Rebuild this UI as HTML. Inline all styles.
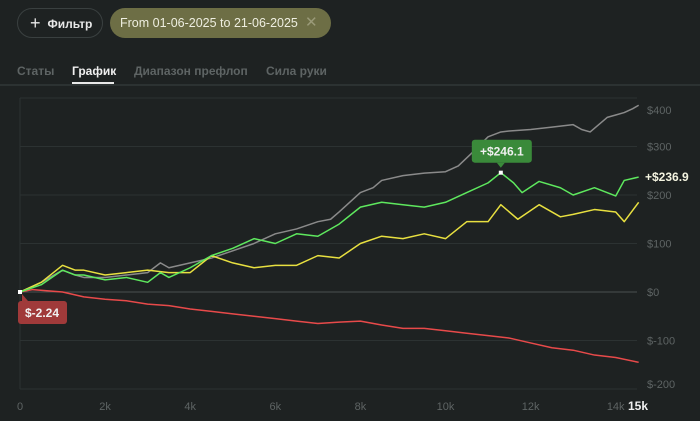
<!DOCTYPE html>
<html><head><meta charset="utf-8"><style>
body{margin:0;width:700px;height:421px;background:#1e2222;font-family:"Liberation Sans",sans-serif;overflow:hidden;position:relative}
.abs{position:absolute}
.btn{left:17px;top:8px;width:84px;height:28px;border:1px solid #3a4040;border-radius:15px;color:#e8e8e8;font-size:12px;font-weight:bold;line-height:28px;box-sizing:content-box}
.date{left:110px;top:8px;width:221px;height:30px;background:#6d6e45;border-radius:15px;color:#eeeee0;font-size:12.5px;line-height:30px}
.tab{top:64px;font-size:12px;font-weight:bold;color:#5e6464}
</style></head><body>
<div class="abs btn"><span style="margin-left:12px;font-weight:normal;font-size:18px;vertical-align:-1px">+</span><span style="margin-left:7px">Фильтр</span></div>
<div class="abs date"><span style="margin-left:10px">From 01-06-2025 to 21-06-2025</span><span style="position:absolute;left:195px;color:#9a9a78;font-size:15px">✕</span></div>
<div class="abs tab" style="left:17px">Статы</div>
<div class="abs tab" style="left:72px;color:#f0f0f0">График</div>
<div class="abs" style="left:72px;top:82px;width:42px;height:2px;background:#e8e8e8"></div>
<div class="abs tab" style="left:134px">Диапазон префлоп</div>
<div class="abs tab" style="left:266px">Сила руки</div>
<div class="abs" style="left:0;top:84px;width:700px;height:2px;background:#2c3232"></div>
<svg id="chart" class="abs" style="left:0;top:0" width="700" height="421"></svg>
<script>
const xTicks=[0,2000,4000,6000,8000,10000,12000,14000];
const xTickLabels=["0","2k","4k","6k","8k","10k","12k","14k"];
const yTicks=[400,300,200,100,0,-100,-200];
const yTickLabels=["$400","$300","$200","$100","$0","$-100","$-200"];
const grayX=[0,500,1000,1300,1500,2000,2500,3000,3300,3500,4000,4500,5000,5500,6000,6500,7000,7300,7500,8000,8300,8500,9000,9500,10000,10300,10600,11000,11300,11500,12000,12500,13000,13200,13400,13800,14000,14200,14400,14540];
const grayY=[0,20,45,35,30,30,35,40,60,50,60,70,85,100,120,130,145,150,165,205,215,230,240,245,248,260,285,320,330,332,335,340,345,335,330,360,365,370,378,385];
const greenX=[0,500,1000,1300,1500,2000,2500,3000,3300,3500,4000,4500,5000,5500,6000,6500,7000,7500,8000,8500,9000,9500,10000,10500,11000,11300,11600,11800,12200,12700,13000,13500,14000,14200,14540];
const greenY=[0,15,45,35,35,25,30,20,40,30,50,75,90,110,100,120,115,140,175,185,180,175,185,205,225,246,225,205,228,215,200,215,198,230,237];
const yellowX=[0,500,1000,1300,1500,2000,2500,3000,3500,4000,4500,5000,5500,6000,6500,7000,7500,8000,8500,9000,9500,10000,10500,11000,11300,11700,12200,12700,13000,13500,14000,14200,14540];
const yellowY=[0,20,55,45,45,35,40,45,40,40,75,60,50,55,55,75,70,100,115,110,120,110,145,145,180,150,180,155,160,170,165,145,185];
const redX=[0,300,1000,1500,2000,2500,3000,3500,4000,4500,5000,5500,6000,6500,7000,7500,8000,8500,9000,9500,10000,10500,11000,11500,12000,12500,13000,13500,14000,14540];
const redY=[0,5,0,-10,-15,-18,-25,-28,-35,-40,-45,-50,-55,-60,-65,-62,-60,-68,-75,-75,-80,-85,-90,-95,-105,-115,-120,-130,-135,-145];
const svg=document.getElementById('chart');const NS='http://www.w3.org/2000/svg';
const X=v=>20+v*0.04255, Y=v=>292-v*0.485;
function el(t,a,p){const e=document.createElementNS(NS,t);for(const k in a)e.setAttribute(k,a[k]);(p||svg).appendChild(e);return e;}
yTicks.forEach((t,i)=>{
 const g=el('line',{x1:20,x2:637,y1:Y(t),y2:Y(t),stroke:t===0?'#4a5050':'#2c3232','stroke-width':1});
 
 
 let ly=Math.min(Math.max(Y(t)+4,114),388);
 const l=el('text',{x:647,y:ly,fill:'#5e6464','font-size':11});l.textContent=yTickLabels[i];
 
 
});
const ax=el('line',{x1:20,x2:20,y1:98,y2:389,stroke:'#2c3232'});


xTicks.forEach((t,i)=>{const l=el('text',{x:X(t),y:410,fill:'#5e6464','font-size':11,'text-anchor':'middle'});l.textContent=xTickLabels[i];
 
 });
const mx=el('text',{x:638,y:410,fill:'#f0f0f0','font-size':12,'font-weight':'bold','text-anchor':'middle'});mx.textContent='15k';


function series(xs,ys,col,name){let d='M'+X(xs[0])+','+Y(ys[0]);
 for(let i=1;i<xs.length;i++){d+=' L'+X(xs[i])+','+Y(ys[i]);}
 const p=el('path',{d:d,fill:'none',stroke:col,'stroke-width':1.5,'stroke-linejoin':'round'});
 
 }
series(grayX,grayY,'#8a8a8a','series-gray');
series(redX,redY,'#e84a4a','series-red');
series(yellowX,yellowY,'#e8e040','series-yellow');
series(greenX,greenY,'#5ee85e','series-green');
const mi=greenY.indexOf(Math.max(...greenY));const px=X(greenX[mi]),py=Y(greenY[mi]);
const mb=el('rect',{x:px-29,y:py-33,width:60,height:23,rx:3,fill:'#3a8a3a'});


el('path',{d:`M${px-4},${py-10} L${px},${py-5} L${px+4},${py-10}Z`,fill:'#3a8a3a'});
const mt=el('text',{x:px+1,y:py-17,fill:'#f0f0f0','font-size':12,'font-weight':'bold','text-anchor':'middle'});mt.textContent='+$246.1';
el('rect',{x:px-2,y:py-2,width:4,height:4,fill:'#fff'});
const et=el('text',{x:645,y:Y(greenY[greenY.length-1])+4,fill:'#f4f4e0','font-size':12,'font-weight':'bold'});et.textContent='+$236.9';


const rb=el('rect',{x:18,y:301,width:49,height:23,rx:3,fill:'#a03a3a'});


el('path',{d:'M22,301 L22,294 L28,301Z',fill:'#a03a3a'});
const rt=el('text',{x:42,y:317,fill:'#f0f0f0','font-size':12,'font-weight':'bold','text-anchor':'middle'});rt.textContent='$-2.24';
el('rect',{x:18,y:290,width:4,height:4,fill:'#fff'});
</script>
</body></html>
